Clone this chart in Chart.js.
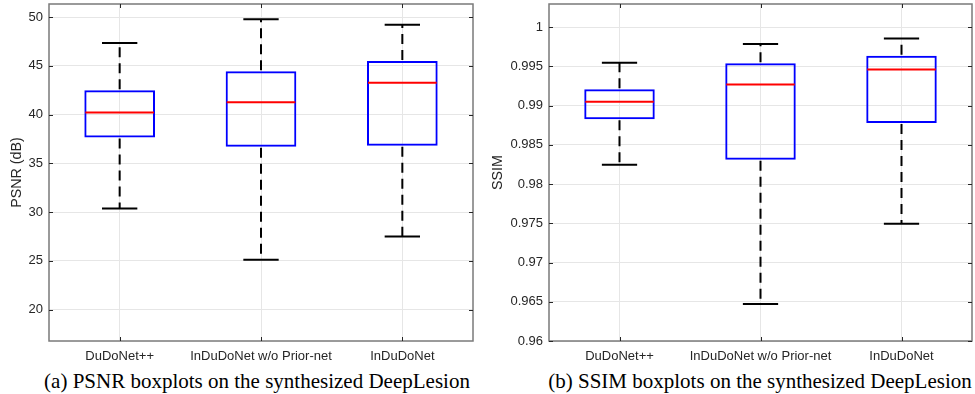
<!DOCTYPE html>
<html lang="en">
<head>
  <meta charset="UTF-8">
  <title>Boxplots</title>
  <script src="https://cdn.jsdelivr.net/npm/chart.js"></script>
  <style>
    body {
      margin: 0;
      width: 975px;
      height: 394px;
      position: relative;
      background: #fff;
      overflow: hidden;
    }
    canvas {
      position: absolute;
      top: 0;
    }
    #psnrChart { left: 0; }
    #ssimChart { left: 487px; }
    .caption {
      position: absolute;
      top: 369px;
      font-family: 'Liberation Serif', 'Times New Roman', serif;
      font-size: 21px;
      line-height: 24px;
      color: #000;
      white-space: nowrap;
      transform: translateX(-50%);
    }
  </style>
</head>
<body>
  <canvas id="psnrChart" width="487" height="366"></canvas>
  <canvas id="ssimChart" width="488" height="366"></canvas>
  <div class="caption" style="left:257px">(a) PSNR boxplots on the synthesized DeepLesion</div>
  <div class="caption" style="left:760px">(b) SSIM boxplots on the synthesized DeepLesion</div>

  <script>
    const methods = ['DuDoNet++', 'InDuDoNet w/o Prior-net', 'InDuDoNet'];

    // PSNR (dB) box stats per method
    const psnrLow = [30.35, 25.1, 27.5];
    const psnrQ1 = [37.65, 36.7, 36.8];
    const psnrMedian = [40.22, 41.25, 43.27];
    const psnrQ3 = [42.48, 44.43, 45.5];
    const psnrHigh = [47.35, 49.78, 49.2];
    const psnrTicks = [20, 25, 30, 35, 40, 45, 50];

    // SSIM box stats per method
    const ssimLow = [0.98246, 0.96472, 0.97493];
    const ssimQ1 = [0.98826, 0.9831, 0.98778];
    const ssimMedian = [0.9905, 0.99267, 0.99459];
    const ssimQ3 = [0.99208, 0.9954, 0.99634];
    const ssimHigh = [0.99544, 0.99783, 0.99855];
    const ssimTicks = [0.96, 0.965, 0.97, 0.975, 0.98, 0.985, 0.99, 0.995, 1];

    const textColor = '#262626';
    const font = { family: "'Liberation Sans', Arial, sans-serif", size: 13 };
    const titleFont = { family: "'Liberation Sans', Arial, sans-serif", size: 14.3 };

    // whiskers, caps, medians and the axes frame with inner ticks
    const boxExtras = {
      id: 'boxExtras',
      afterDatasetsDraw(chart) {
        const { ctx, scales: { x, y }, chartArea: a } = chart;
        const st = chart.options.plugins.boxExtras;
        const step = x.getPixelForValue(1) - x.getPixelForValue(0);
        ctx.save();
        st.median.forEach((m, i) => {
          const cx = x.getPixelForValue(i);
          const half = step * 0.25;
          const capHalf = step * 0.125;
          // dashed whiskers
          ctx.strokeStyle = '#000';
          ctx.lineWidth = 2;
          ctx.setLineDash([10, 6]);
          ctx.beginPath();
          ctx.moveTo(cx, y.getPixelForValue(st.q3[i]) - 1);
          ctx.lineTo(cx, y.getPixelForValue(st.high[i]));
          ctx.moveTo(cx, y.getPixelForValue(st.q1[i]) + 1);
          ctx.lineTo(cx, y.getPixelForValue(st.low[i]));
          ctx.stroke();
          // caps
          ctx.setLineDash([]);
          ctx.beginPath();
          ctx.moveTo(cx - capHalf, y.getPixelForValue(st.high[i]));
          ctx.lineTo(cx + capHalf, y.getPixelForValue(st.high[i]));
          ctx.moveTo(cx - capHalf, y.getPixelForValue(st.low[i]));
          ctx.lineTo(cx + capHalf, y.getPixelForValue(st.low[i]));
          ctx.stroke();
          // median
          ctx.strokeStyle = '#ff0000';
          ctx.lineWidth = 2;
          ctx.beginPath();
          ctx.moveTo(cx - half + 1, y.getPixelForValue(m));
          ctx.lineTo(cx + half - 1, y.getPixelForValue(m));
          ctx.stroke();
        });
        // frame
        ctx.strokeStyle = '#7a7a7a';
        ctx.lineWidth = 1.5;
        ctx.strokeRect(a.left, a.top, a.right - a.left, a.bottom - a.top);
        // inner ticks
        ctx.strokeStyle = '#262626';
        ctx.lineWidth = 1;
        ctx.beginPath();
        y.ticks.forEach(t => {
          const py = Math.round(y.getPixelForValue(t.value)) + 0.5;
          ctx.moveTo(a.left, py); ctx.lineTo(a.left + 4, py);
          ctx.moveTo(a.right, py); ctx.lineTo(a.right - 4, py);
        });
        x.ticks.forEach((t, i) => {
          const px = Math.round(x.getPixelForValue(i)) + 0.5;
          ctx.moveTo(px, a.bottom); ctx.lineTo(px, a.bottom - 4);
          ctx.moveTo(px, a.top); ctx.lineTo(px, a.top + 4);
        });
        ctx.stroke();
        ctx.restore();
      }
    };

    function createBoxChart(canvasId, stats, yMin, yMax, tickValues, yTitle, yWidth, padRight, titlePad) {
      const ctx = document.getElementById(canvasId).getContext('2d');
      return new Chart(ctx, {
        type: 'bar',
        data: {
          labels: methods,
          datasets: [{
            data: stats.q1.map((q, i) => [q, stats.q3[i]]),
            backgroundColor: 'rgba(0,0,0,0)',
            borderColor: '#0000ff',
            borderWidth: 2,
            borderSkipped: false,
            barPercentage: 0.5,
            categoryPercentage: 1
          }]
        },
        options: {
          responsive: false,
          animation: false,
          devicePixelRatio: 1,
          layout: { padding: { top: 4, right: padRight, left: 0, bottom: 0 } },
          plugins: {
            legend: { display: false },
            tooltip: { enabled: false },
            boxExtras: stats
          },
          scales: {
            x: {
              offset: true,
              grid: { offset: false, color: '#e6e6e6', drawTicks: false },
              border: { display: false },
              ticks: { color: textColor, font: font, padding: 8, maxRotation: 0, autoSkip: false },
              afterFit: s => { s.height = 25; s.paddingLeft = 0; s.paddingRight = 0; }
            },
            y: {
              min: yMin,
              max: yMax,
              grid: { color: '#e6e6e6', drawTicks: false },
              border: { display: false },
              afterBuildTicks: s => { s.ticks = tickValues.map(v => ({ value: v })); },
              ticks: { color: textColor, font: font, padding: 6, callback: v => String(+v.toFixed(4)) },
              title: { display: true, text: yTitle, color: textColor, font: titleFont, padding: { top: titlePad, bottom: 0 } },
              afterFit: s => { s.width = yWidth; s.paddingTop = 0; s.paddingBottom = 0; }
            }
          }
        },
        plugins: [boxExtras]
      });
    }

    createBoxChart('psnrChart',
      { low: psnrLow, q1: psnrQ1, median: psnrMedian, q3: psnrQ3, high: psnrHigh },
      16.77, 51.34, psnrTicks, 'PSNR (dB)', 49, 14, 8);

    createBoxChart('ssimChart',
      { low: ssimLow, q1: ssimQ1, median: ssimMedian, q3: ssimQ3, high: ssimHigh },
      0.96, 1.00294, ssimTicks, 'SSIM', 62, 3, 2);
  </script>
</body>
</html>
